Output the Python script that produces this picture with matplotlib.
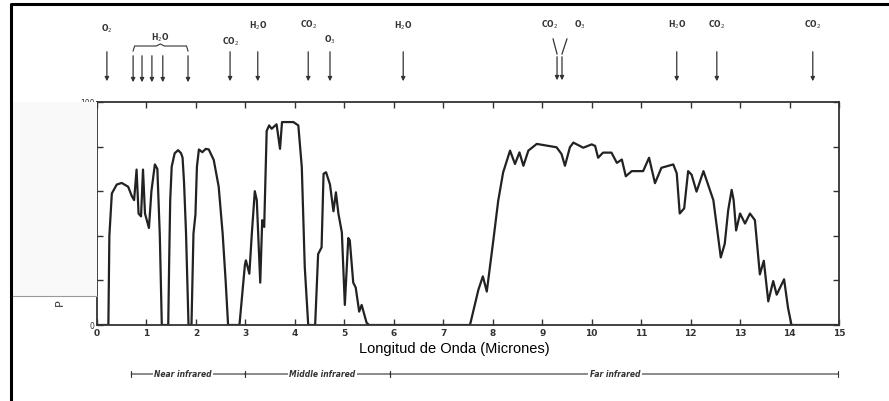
import matplotlib.pyplot as plt
from matplotlib.lines import Line2D
from matplotlib.patches import Rectangle

# ============================================================
# DATOS
# ============================================================

longitud = [0.0, 0.23, 0.25, 0.30, 0.40, 0.50, 0.63, 0.70, 0.75, 0.80, 0.84, 0.89, 0.93,
            0.97, 1.05, 1.10, 1.17, 1.22, 1.27, 1.31, 1.44, 1.46, 1.48, 1.51, 1.57, 1.64,
            1.70, 1.73, 1.76, 1.80, 1.85, 1.91, 1.95, 1.99, 2.02, 2.06, 2.13, 2.20, 2.26,
            2.36, 2.46, 2.54, 2.60, 2.65, 2.88, 2.99, 3.01, 3.08, 3.13, 3.19, 3.23, 3.30,
            3.34, 3.38, 3.43, 3.48, 3.53, 3.63, 3.70, 3.74, 3.85, 3.97, 4.07, 4.14, 4.20,
            4.27, 4.41, 4.47, 4.54, 4.58, 4.63, 4.71, 4.78, 4.83, 4.88, 4.95, 5.01, 5.08,
            5.11, 5.18, 5.23, 5.30, 5.35, 5.45, 5.50, 7.54, 7.71, 7.80, 7.88, 8.01, 8.11,
            8.21, 8.35, 8.45, 8.54, 8.62, 8.72, 8.89, 9.29, 9.39, 9.46, 9.56, 9.63, 9.83,
            10.0, 10.07, 10.13, 10.23, 10.40, 10.51, 10.61, 10.69, 10.81, 11.04, 11.16,
            11.28, 11.41, 11.65, 11.72, 11.78, 11.87, 11.95, 12.02, 12.12, 12.26, 12.46,
            12.53, 12.61, 12.69, 12.76, 12.83, 12.87, 12.92, 13.0, 13.10, 13.20, 13.30,
            13.40, 13.48, 13.57, 13.67, 13.74, 13.89, 13.97, 14.04, 15.0]
transmision = [0, 0, 40, 59, 63, 63.7, 62, 58, 56, 69.7, 50, 48.7, 69.7,
               50, 43.5, 60, 72, 70, 40, 0, 0, 30, 56, 71, 77, 78.4,
               77, 75, 63.7, 41, 0, 0, 41, 49.5, 71, 78.7, 77.5, 79, 78.7,
               74, 62, 41, 20, 0, 0, 27, 29, 23, 41, 60, 56, 19,
               47, 44, 87, 89.5, 88, 90, 79, 91, 91, 91, 89.5, 70.8, 26,
               0, 0, 31.8, 34.8, 67.8, 68.5, 63, 51, 59.5, 50, 41.5, 9, 39,
               38, 19, 16.8, 6, 9, 1, 0, 0, 15.8, 21.8, 15, 37.6, 55.6,
               68.4, 78.2, 72.2, 77.4, 71.4, 78.2, 81.2, 79.7, 76.7, 71.4, 79.7, 81.8, 79.5,
               81, 80.3, 75, 77.3, 77.3, 72.7, 74.2, 66.7, 69, 69, 75,
               63.6, 70.5, 72, 68, 50, 52.3, 69, 67.4, 59.8, 69, 56,
               44, 30.3, 36.4, 51.5, 60.6, 56, 42.4, 50, 45.5, 50, 47,
               22.7, 28.8, 10.6, 19.7, 13.6, 20.5, 7.6, 0, 0]

# Absorciones marcadas arriba (gas, posicion de la flecha, altura de la etiqueta en px)
gases = ['O$_2$', 'CO$_2$', 'H$_2$O', 'CO$_2$', 'O$_3$', 'H$_2$O', 'H$_2$O', 'CO$_2$', 'CO$_2$']
gases_x = [0.2, 2.69, 3.25, 4.27, 4.71, 6.19, 11.72, 12.53, 14.47]
gases_y = [29, 42, 26, 25, 40, 26, 25, 25, 25]
h2o_flechas = [0.73, 0.91, 1.11, 1.33, 1.84]

regiones = ['Near infrared', 'Middle infrared', 'Far infrared']
regiones_lim = [0.69, 2.99, 5.92, 14.98]
regiones_txt = [1.74, 4.55, 10.47]

W, H = 889, 402


def fy(py):
    # pixel (desde arriba) -> fraccion de figura
    return 1 - py / H


fig = plt.figure(figsize=(W / 100, H / 100), dpi=100)
ax = fig.add_axes([97 / W, fy(326), 742 / W, (326 - 103) / H])

# ============================================================
# CURVA DE TRANSMISION
# ============================================================
ax.plot(longitud, transmision, color='#222222', lw=1.6, solid_joinstyle='round')

ax.set_xlim(0, 15)
ax.set_ylim(0, 100)
ax.set_xticks(range(16))
ax.set_xticklabels([str(i) for i in range(16)], fontsize=6.5, fontweight='bold')
ax.set_yticks([0, 20, 40, 60, 80, 100])
ax.set_yticklabels(['0', '', '', '', '', '100'], fontsize=5.5)
ax.tick_params(direction='in', length=4, width=1, top=True, right=True, pad=2, colors='#333333')
for s in ax.spines.values():
    s.set_linewidth(1.3)
    s.set_color('#333333')

ax.set_xlabel('Longitud de Onda (Micrones)', fontsize=10.5, family='Liberation Sans')
ax.xaxis.set_label_coords((454 - 97) / 742, -0.07)

# parche gris a la izquierda y etiqueta del eje y
fig.patches.append(Rectangle((12 / W, fy(297)), 85 / W, (297 - 103) / H,
                             transform=fig.transFigure, facecolor='#f9f9f9',
                             edgecolor='none', zorder=0))
fig.lines.append(Line2D([12 / W, 97 / W], [fy(297), fy(297)], transform=fig.transFigure,
                        color='#999999', lw=0.8))
fig.text(60 / W, fy(303), 'P', rotation=90, fontsize=8, ha='center', va='center', color='#333333')

# marco exterior
fig.lines.append(Line2D([11 / W, 11 / W, 1], [0, fy(5), fy(5)], transform=fig.transFigure,
                        color='black', lw=2.2))

# ============================================================
# FLECHAS DE ABSORCION
# ============================================================
flecha = dict(arrowstyle='-|>', color='#333333', lw=0.9, mutation_scale=6)
mixto = ('data', 'figure fraction')

for nombre, xg, yg in zip(gases, gases_x, gases_y):
    ax.annotate('', xy=(xg, fy(85)), xytext=(xg, fy(50)),
                xycoords=mixto, textcoords=mixto,
                arrowprops=flecha, annotation_clip=False)
    ax.annotate(nombre, xy=(xg, fy(yg)), xycoords=mixto,
                ha='center', va='center', fontsize=5.5, fontweight='bold',
                color='#333333', annotation_clip=False)

for xg in h2o_flechas:
    ax.annotate('', xy=(xg, fy(86)), xytext=(xg, fy(54)),
                xycoords=mixto, textcoords=mixto,
                arrowprops=flecha, annotation_clip=False)

# llave del H2O
bt = ax.get_xaxis_transform()
bt = plt.matplotlib.transforms.blended_transform_factory(ax.transData, fig.transFigure)
fig.lines.append(Line2D([0.73, 0.76, 1.20, 1.28, 1.36, 1.81, 1.84],
                        [fy(52), fy(47), fy(47), fy(45), fy(47), fy(47), fy(52)],
                        transform=bt, color='#333333', lw=0.8))
ax.annotate('H$_2$O', xy=(1.28, fy(38)), xycoords=mixto,
            ha='center', va='center', fontsize=5.5, fontweight='bold',
            color='#333333', annotation_clip=False)

# CO2 / O3 en 9.4 um (flecha en Y)
for x0, x1 in [(9.22, 9.30), (9.50, 9.40)]:
    fig.lines.append(Line2D([x0, x1], [fy(40), fy(55)], transform=bt, color='#333333', lw=0.9))
    ax.annotate('', xy=(x1, fy(84)), xytext=(x1, fy(55)),
                xycoords=mixto, textcoords=mixto,
                arrowprops=flecha, annotation_clip=False)
ax.annotate('CO$_2$', xy=(9.15, fy(25)), xycoords=mixto,
            ha='center', va='center', fontsize=5.5, fontweight='bold', color='#333333',
            annotation_clip=False)
ax.annotate('O$_3$', xy=(9.76, fy(25)), xycoords=mixto,
            ha='center', va='center', fontsize=5.5, fontweight='bold', color='#333333',
            annotation_clip=False)

# ============================================================
# REGIONES DEL INFRARROJO
# ============================================================
yb = fy(375)
for i, nombre in enumerate(regiones):
    a, b = regiones_lim[i], regiones_lim[i + 1]
    ax.annotate('', xy=(b, yb), xytext=(a, yb),
                xycoords=mixto, textcoords=mixto,
                arrowprops=dict(arrowstyle='|-|,widthA=0.25,widthB=0.25', color='#333333',
                                lw=0.8, shrinkA=0, shrinkB=0), annotation_clip=False)
    ax.annotate(nombre, xy=(regiones_txt[i], yb), xycoords=mixto,
                ha='center', va='center', fontsize=5.5, fontweight='bold', style='italic',
                color='#333333', annotation_clip=False,
                bbox=dict(facecolor='white', edgecolor='none', pad=1))

fig.savefig('out.png', dpi=100)
